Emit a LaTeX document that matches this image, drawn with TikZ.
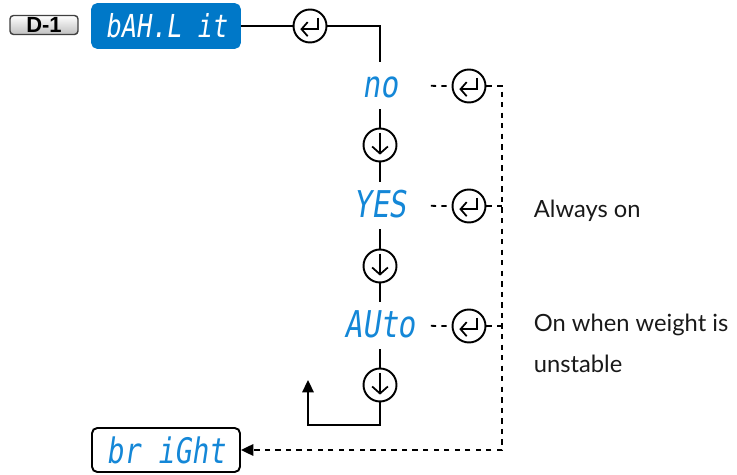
\documentclass[tikz,border=0pt]{standalone}
\usepackage{fontspec}
\setmainfont{Lato}
\newfontfamily\segfont[FakeSlant=0.15,FakeStretch=0.8]{DejaVu Sans Mono}
\newfontfamily\tagfont{Liberation Sans}
\usetikzlibrary{arrows.meta}
\definecolor{dispblue}{RGB}{0,120,200}
\definecolor{segblue}{RGB}{20,135,215}

\begin{document}
\begin{tikzpicture}[x=0.02cm, y=-0.02cm, line width=1pt,
        key/.style={circle, draw, line width=1.1pt, minimum size=0.66cm, inner sep=0pt},
        enterkey/.style={key, path picture={\draw[line width=1pt, -{Straight Barb[length=3.5pt,width=8pt]}] (path picture bounding box.center) ++(4.5pt,4.8pt) -- ++(0,-6.6pt) -- ++(-10pt,0);}},
        downkey/.style={key, path picture={\draw[line width=1pt, -{Straight Barb[length=4pt,width=9pt]}] (path picture bounding box.center) ++(0,7pt) -- ++(0,-12.5pt);}},
        opt/.style={anchor=base, text=segblue, font=\segfont\fontsize{21}{21}\selectfont, text height=14pt, text depth=0pt, inner ysep=6pt, minimum width=2cm},
        screen/.style={rounded corners=3pt, minimum width=2.96cm, minimum height=0.88cm, font=\segfont\fontsize{18}{18}\selectfont},
        note/.style={anchor=base west, inner sep=0pt, font=\fontsize{13.5}{16}\selectfont, text=black!90},
        tip/.style={-{Triangle[length=7pt,width=6.5pt]}}
    ]
    \useasboundingbox (0,0) rectangle (737,475);

    \node[draw=black!75, line width=0.8pt, rounded corners=2pt, top color=white, bottom color=black!25, minimum width=1.36cm, minimum height=0.38cm, inner sep=0pt, font=\tagfont\bfseries\fontsize{12.5}{12.5}\selectfont] (d1) at (44,25) {D-1};
    \node[screen, fill=dispblue, draw=dispblue, text=white] (backlit) at (166,26) {bAH.L it};
    \node[enterkey] (ent0) at (310,26) {};
    \coordinate (top) at (380,62);
    \draw (backlit) -- (ent0) -| (top);

    % options
    \node[opt] (no) at (380,98) {no};
    \node[opt] (yes) at (380,218) {YES};
    \node[opt] (auto) at (380,338) {AUto};
    \node[downkey] (dn1) at (380,145) {};
    \node[downkey] (dn2) at (380,266) {};
    \node[downkey] (dn3) at (380,385) {};
    \draw (no) -- (dn1) -- (yes) -- (dn2) -- (auto) -- (dn3);

    \coordinate (back) at (308,425);
    \coordinate (backtip) at (308,380);
    \draw[tip] (dn3) |- (back) -- (backtip);

    \node[enterkey] (ent1) at (469,86) {};
    \node[enterkey] (ent2) at (469,206) {};
    \node[enterkey] (ent3) at (469,326) {};

    \node[screen, draw, line width=1.1pt, text=segblue, font=\segfont\fontsize{20}{20}\selectfont] (bright) at (166,450) {br iGht};
    \coordinate (rail) at (502,450);
    \draw[dashed] (no) -- (ent1);
    \draw[dashed] (yes) -- (ent2);
    \draw[dashed] (auto) -- (ent3);
    \draw[dashed, tip] (ent1) -| (rail) -- (bright);
    \draw[dashed] (ent2) -- (ent2 -| rail);
    \draw[dashed] (ent3) -- (ent3 -| rail);

    \node[note] (always) at (533,218) {Always on};
    \node[note] (onwhen) at (533,332) {On when weight is};
    \node[note] (unstable) at (533,373) {unstable};
\end{tikzpicture}
\end{document}
